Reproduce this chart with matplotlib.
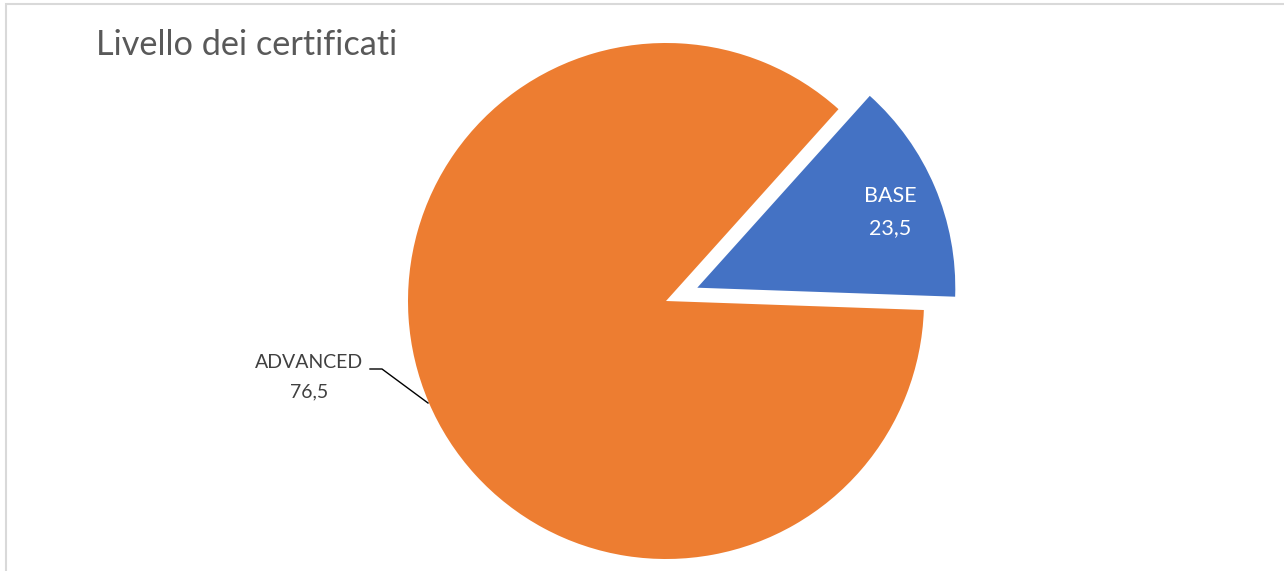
import matplotlib
matplotlib.use('Agg')
import matplotlib.pyplot as plt
from matplotlib.patches import Rectangle

plt.rcParams['font.family'] = ['Lato', 'DejaVu Sans']

title = 'Livello dei certificati'
categories = ['BASE', 'ADVANCED']
values = [23.5, 76.5]            # values printed on the labels
slice_shares = [13.9, 86.1]      # wedge sizes as drawn in the picture
colors = ['#4472C4', '#ED7D31']

W, H = 1284, 571
R = 258
fig = plt.figure(figsize=(W / 100, H / 100), dpi=100)
ax = fig.add_axes([0, 0, 1, 1])

# pixel-like coordinates, y counted from the bottom; explode is in data units
ax.pie(slice_shares, colors=colors, explode=[34, 0], startangle=-2,
       counterclock=True, center=(666, H - 301), radius=R,
       wedgeprops=dict(linewidth=0))
ax.set_xlim(0, W)
ax.set_ylim(0, H)
ax.set_aspect('equal')
ax.axis('off')

# chart border
fig.patches.append(Rectangle((6 / W, -0.1), 1.2, (H - 4) / H + 0.1,
                             transform=fig.transFigure, fill=False,
                             edgecolor='#D9D9D9', linewidth=1.5))

ax.text(96, H - 45, title, fontsize=24.7, color='#595959', va='center', ha='left')

def fmt(v):
    return f'{v:.1f}'.replace('.', ',')

# data labels: name on one line, value below
label_pos = [(890, 196, 228), (309, 362, 392)]
label_col = ['white', '#404040']
label_size = [15.5, 14]
for name, v, (x, y1, y2), c, fs in zip(categories, values, label_pos, label_col, label_size):
    ax.text(x, H - y1, name, color=c, fontsize=fs, ha='center', va='center')
    ax.text(x, H - y2, fmt(v), color=c, fontsize=fs, ha='center', va='center')
ax.plot([370, 382, 428], [H - 369, H - 369, H - 403], color='black', linewidth=1)

fig.savefig('out.png', dpi=100)
